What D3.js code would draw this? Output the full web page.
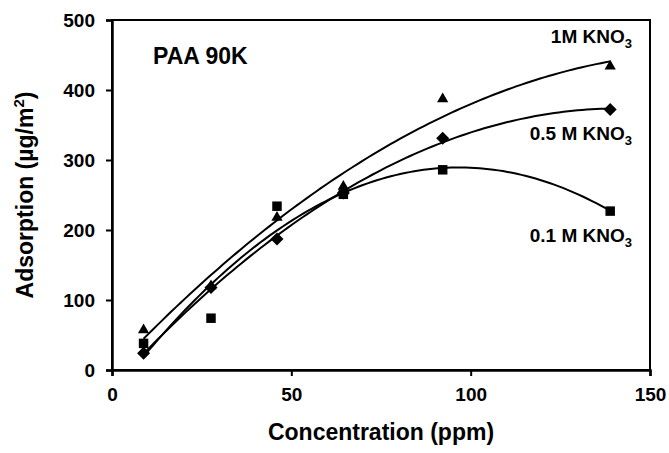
<!DOCTYPE html>
<html>
<head>
<meta charset="utf-8">
<script src="https://cdn.jsdelivr.net/npm/d3@7"></script>
<style>
  body { margin: 0; background: #fff; }
  text { font-family: Arial, "Liberation Sans", sans-serif; font-weight: bold; fill: #000; }
</style>
</head>
<body>
<div id="chart"></div>
<script>
// values
var concentration = [8.8, 27.6, 46, 64.5, 92.2, 138.9];
var kno3_01 = [38, 74, 234, 251, 286, 227];   // squares
var kno3_05 = [24, 118, 187, 253, 331, 372];  // diamonds
var kno3_1 = [57, 120, 218, 262, 387, 434];   // triangles
var xTicks = [0, 50, 100, 150];
var yTicks = [0, 100, 200, 300, 400, 500];

var svgWidth = 669;
var svgHeight = 453;
var margin = { top: 20, right: 19, bottom: 83, left: 112 };
var width = svgWidth - margin.left - margin.right;
var height = svgHeight - margin.top - margin.bottom;

var svg = d3.select("#chart")
  .append("svg")
  .attr("width", svgWidth)
  .attr("height", svgHeight);

var chartGroup = svg.append("g")
  .attr("transform", `translate(${margin.left}, ${margin.top})`);

var xScale = d3.scaleLinear().domain([0, 150]).range([0, width]);
var yScale = d3.scaleLinear().domain([0, 500]).range([height, 0]);

// frame (top and right)
chartGroup.append("rect")
  .attr("width", width)
  .attr("height", height)
  .attr("fill", "none")
  .attr("stroke", "#000")
  .attr("stroke-width", 2);

// axes
var bottomAxis = d3.axisBottom(xScale).tickValues(xTicks).tickSize(6).tickPadding(12);
var leftAxis = d3.axisLeft(yScale).tickValues(yTicks).tickSize(6).tickPadding(11);

var xg = chartGroup.append("g")
  .attr("transform", `translate(0, ${height})`)
  .call(bottomAxis);
var yg = chartGroup.append("g").call(leftAxis);

[xg, yg].forEach(function(g) {
  g.select(".domain").attr("stroke-width", 2.5);
  g.selectAll(".tick line").attr("stroke-width", 2);
  g.selectAll(".tick text")
    .style("font-size", "19px")
    .style("font-family", "Arial, 'Liberation Sans', sans-serif")
    .style("font-weight", "bold")
    .attr("fill", "#000");
});

// quadratic least squares trendline, as a spreadsheet would draw it
function quadFit(xs, ys) {
  var s = [0, 0, 0, 0, 0], t = [0, 0, 0];
  xs.forEach(function(x, i) {
    for (var k = 0; k < 5; k++) s[k] += Math.pow(x, k);
    for (var k = 0; k < 3; k++) t[k] += ys[i] * Math.pow(x, k);
  });
  var A = [[s[0], s[1], s[2], t[0]], [s[1], s[2], s[3], t[1]], [s[2], s[3], s[4], t[2]]];
  for (var i = 0; i < 3; i++) {
    for (var j = i + 1; j < 3; j++) {
      var f = A[j][i] / A[i][i];
      for (var k = i; k < 4; k++) A[j][k] -= f * A[i][k];
    }
  }
  var c = [0, 0, 0];
  for (var i = 2; i >= 0; i--) {
    var sum = A[i][3];
    for (var k = i + 1; k < 3; k++) sum -= A[i][k] * c[k];
    c[i] = sum / A[i][i];
  }
  return function(x) { return c[0] + c[1] * x + c[2] * x * x; };
}

var series = [
  { values: kno3_01, symbol: d3.symbolSquare, size: 90, rotate: 0 },
  { values: kno3_05, symbol: d3.symbolSquare, size: 85, rotate: 45 },
  { values: kno3_1, symbol: d3.symbolTriangle, size: 55, rotate: 0 }
];

var line = d3.line()
  .x(d => xScale(d[0]))
  .y(d => yScale(d[1]));

var xMin = d3.min(concentration), xMax = d3.max(concentration);

series.forEach(function(s) {
  var fit = quadFit(concentration, s.values);
  var pts = d3.range(0, 101).map(function(i) {
    var x = xMin + (xMax - xMin) * i / 100;
    return [x, fit(x)];
  });
  chartGroup.append("path")
    .datum(pts)
    .attr("d", line)
    .attr("fill", "none")
    .attr("stroke", "#000")
    .attr("stroke-width", 2);

  chartGroup.selectAll(null)
    .data(s.values)
    .enter()
    .append("path")
    .attr("d", d3.symbol().type(s.symbol).size(s.size))
    .attr("transform", (d, i) => `translate(${xScale(concentration[i])}, ${yScale(d)}) rotate(${s.rotate})`)
    .attr("fill", "#000");
});

// series labels
var labels = [
  { text: "1M KNO", y: 43 },
  { text: "0.5 M KNO", y: 140 },
  { text: "0.1 M KNO", y: 242 }
];
labels.forEach(function(l) {
  var t = svg.append("text")
    .attr("x", 632)
    .attr("y", l.y)
    .attr("text-anchor", "end")
    .style("font-size", "19px")
    .text(l.text);
  t.append("tspan").attr("dy", 5).style("font-size", "13px").text("3");
});

svg.append("text")
  .attr("x", 153)
  .attr("y", 64)
  .style("font-size", "23px")
  .text("PAA 90K");

// axis titles
svg.append("text")
  .attr("x", margin.left + width / 2)
  .attr("y", 440)
  .attr("text-anchor", "middle")
  .style("font-size", "23px")
  .text("Concentration (ppm)");

var yTitle = svg.append("text")
  .attr("transform", `translate(33, ${margin.top + height / 2}) rotate(-90)`)
  .attr("text-anchor", "middle")
  .style("font-size", "23px")
  .text("Adsorption (µg/m");
yTitle.append("tspan").attr("dy", -9).style("font-size", "15px").text("2");
yTitle.append("tspan").attr("dy", 9).text(")");
</script>
</body>
</html>
